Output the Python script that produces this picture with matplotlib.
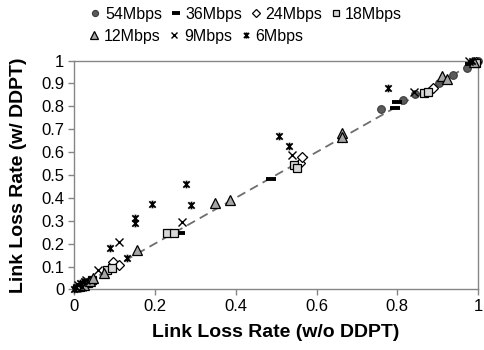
import numpy as np
import matplotlib
matplotlib.use("Agg")
import matplotlib.pyplot as plt
from matplotlib.path import Path

plt.rcParams['font.family'] = ['Liberation Sans', 'DejaVu Sans']

# Data: (loss w/o DDPT, loss w/ DDPT)
x54 = [0.005, 0.012, 0.759, 0.815, 0.844, 0.902, 0.937, 0.972, 0.990, 1.000]
y54 = [0.005, 0.008, 0.789, 0.828, 0.854, 0.901, 0.937, 0.967, 0.990, 1.000]

x36 = [0.010, 0.020, 0.262, 0.487, 0.795, 0.798, 0.980]
y36 = [0.010, 0.015, 0.248, 0.481, 0.792, 0.821, 0.985]

x24 = [0.020, 0.030, 0.097, 0.110, 0.559, 0.564, 0.889, 0.995]
y24 = [0.020, 0.025, 0.121, 0.106, 0.551, 0.580, 0.879, 0.995]

x18 = [0.015, 0.035, 0.045, 0.081, 0.093, 0.231, 0.248, 0.543, 0.551, 0.865, 0.877, 0.995]
y18 = [0.012, 0.030, 0.040, 0.087, 0.092, 0.248, 0.248, 0.544, 0.529, 0.857, 0.864, 0.990]

x12 = [0.025, 0.040, 0.048, 0.073, 0.155, 0.349, 0.385, 0.663, 0.663, 0.910, 0.922, 0.990]
y12 = [0.020, 0.035, 0.048, 0.070, 0.172, 0.379, 0.391, 0.685, 0.668, 0.933, 0.919, 0.995]

x9 = [0.010, 0.030, 0.020, 0.060, 0.112, 0.268, 0.539, 0.840, 0.978]
y9 = [0.020, 0.040, 0.010, 0.084, 0.206, 0.296, 0.587, 0.864, 1.000]

x6 = [0.000, 0.005, 0.015, 0.025, 0.089, 0.130, 0.151, 0.151, 0.192, 0.277, 0.289, 0.506, 0.531, 0.778, 0.985]
y6 = [0.000, 0.010, 0.030, 0.035, 0.179, 0.136, 0.310, 0.289, 0.373, 0.459, 0.369, 0.671, 0.627, 0.879, 1.000]

# Excel-like star marker: X with a vertical bar
star = Path([(-1, -1), (1, 1), (-1, 1), (1, -1), (0, -1.2), (0, 1.2)],
            [Path.MOVETO, Path.LINETO, Path.MOVETO, Path.LINETO, Path.MOVETO, Path.LINETO])

fig = plt.figure(figsize=(4.84, 3.5), dpi=100)
ax = fig.add_axes([0.153, 0.173, 0.835, 0.654])

ax.plot([0, 1], [0, 1], color='#6e6e6e', lw=1.3, ls=(0, (5, 3)), zorder=1)

kw = dict(linestyle='none', clip_on=False, zorder=3)
h54, = ax.plot(x54, y54, marker='o', ms=5.5, mfc='#5a5a5a', mec='#3c3c3c', mew=0.8, **kw)
h36, = ax.plot(x36, y36, marker='_', ms=6.5, mec='black', mew=2.8, **kw)
h24, = ax.plot(x24, y24, marker='D', ms=5, mfc='white', mec='black', mew=0.9, **kw)
h18, = ax.plot(x18, y18, marker='s', ms=6, mfc='#d6d6d6', mec='black', mew=0.9, **kw)
h12, = ax.plot(x12, y12, marker='^', ms=6.5, mfc='#a6a6a6', mec='black', mew=0.9, **kw)
h9, = ax.plot(x9, y9, marker='x', ms=5.5, mec='black', mew=1.0, **kw)
h6, = ax.plot(x6, y6, marker=star, ms=5.5, mec='black', mew=1.3, **kw)

ax.set_xlim(0, 1)
ax.set_ylim(0, 1)
ax.set_xticks(np.arange(0, 1.01, 0.2))
ax.set_xticklabels(['0', '0.2', '0.4', '0.6', '0.8', '1'])
ax.set_yticks(np.arange(0, 1.01, 0.1))
ax.set_yticklabels(['0', '0.1', '0.2', '0.3', '0.4', '0.5', '0.6', '0.7', '0.8', '0.9', '1'])
for s in ax.spines.values():
    s.set_color('#868686')
    s.set_linewidth(1.0)
ax.tick_params(direction='out', length=4, width=1, color='#868686', labelsize=12, pad=3)

ax.set_xlabel('Link Loss Rate (w/o DDPT)', fontsize=14, fontweight='bold', labelpad=7)
ax.set_ylabel('Link Loss Rate (w/ DDPT)', fontsize=14, fontweight='bold', labelpad=10)

lkw = dict(frameon=False, fontsize=11.5, handlelength=0.7, handletextpad=0.25,
           columnspacing=0.5, borderpad=0, loc='center', markerscale=0.8)
fig.legend([h54, h36, h24, h18], ['54Mbps', '36Mbps', '24Mbps', '18Mbps'], ncol=4,
           bbox_to_anchor=(246 / 484, 1 - 14 / 350), **lkw)
fig.legend([h12, h9, h6], ['12Mbps', '9Mbps', '6Mbps'], ncol=3,
           bbox_to_anchor=(196 / 484, 1 - 36 / 350), **lkw)

fig.savefig('out.png', dpi=100)
